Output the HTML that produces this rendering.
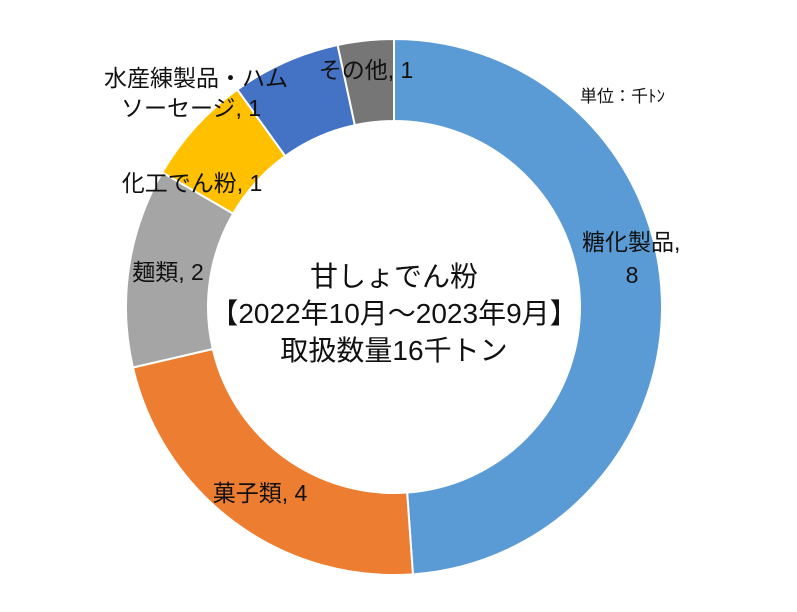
<!DOCTYPE html>
<html><head><meta charset="utf-8"><style>
body{margin:0;background:#fff;}
svg text{font-family:"Liberation Sans","Noto Sans CJK JP",sans-serif;fill:#111;}
</style></head><body>
<svg width="797" height="607" viewBox="0 0 797 607">
<g id="slices"></g>
<g font-size="23">
<text x="580" y="102" font-size="17">単位：千ﾄﾝ</text>
<text x="582" y="250">糖化製品,</text>
<text x="632" y="283" text-anchor="middle">8</text>
<text x="260" y="501" text-anchor="middle">菓子類, 4</text>
<text x="168" y="280" text-anchor="middle">麺類, 2</text>
<text x="192" y="191" text-anchor="middle">化工でん粉, 1</text>
<text x="196" y="86" text-anchor="middle">水産練製品・ハム</text>
<text x="191" y="116" text-anchor="middle">ソーセージ, 1</text>
<text x="366" y="78" text-anchor="middle">その他, 1</text>
</g>
<g font-size="28" text-anchor="middle">
<text x="394" y="286">甘しょでん粉</text>
<text x="394" y="323">【2022年10月～2023年9月】</text>
<text x="394" y="360">取扱数量16千トン</text>
</g>
</svg>
<script>
const categories=["糖化製品","菓子類","麺類","化工でん粉","水産練製品・ハムソーセージ","その他"];
const values=[7.82,3.6,1.92,1.07,1.05,0.54];
const colors=["#5B9BD5","#ED7D31","#A5A5A5","#FFC000","#4472C4","#767676"];
const cx=394,cy=307,R=268,r=186;
const total=values.reduce((a,b)=>a+b,0);
const g=document.getElementById('slices');
function pt(a,rad){return [cx+rad*Math.sin(a),cy-rad*Math.cos(a)];}
let a0=0;
values.forEach((v,i)=>{
  const a1=a0+v/total*2*Math.PI;
  const large=(a1-a0)>Math.PI?1:0;
  const p1=pt(a0,R),p2=pt(a1,R),p3=pt(a1,r),p4=pt(a0,r);
  const p=document.createElementNS('http://www.w3.org/2000/svg','path');
  p.setAttribute('d',`M${p1[0]},${p1[1]}A${R},${R} 0 ${large} 1 ${p2[0]},${p2[1]}L${p3[0]},${p3[1]}A${r},${r} 0 ${large} 0 ${p4[0]},${p4[1]}Z`);
  p.setAttribute('fill',colors[i]);
  p.setAttribute('stroke','#fff');
  p.setAttribute('stroke-width','2');
  
  
  g.appendChild(p);
  a0=a1;
});
</script>
</body></html>
